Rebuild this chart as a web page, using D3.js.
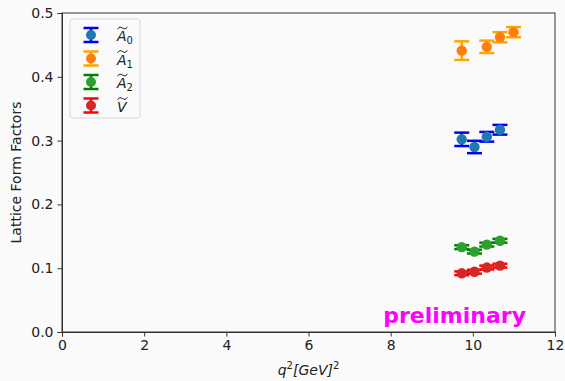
<!DOCTYPE html>
<html>
<head>
<meta charset="utf-8">
<script src="https://cdn.jsdelivr.net/npm/d3@7"></script>
<style>
  body { margin: 0; background: #fafafa; }
  text { font-family: "DejaVu Sans", sans-serif; }
</style>
</head>
<body>
<svg id="chart" width="565" height="381"></svg>
<script>
// q^2 values and form factors
const q2A0 = [9.73, 10.04, 10.34, 10.66];
const A0 = [0.302, 0.290, 0.306, 0.317];
const A0err = [0.0105, 0.0097, 0.0076, 0.0076];

const q2A1 = [9.73, 10.34, 10.66, 10.99];
const A1 = [0.441, 0.447, 0.462, 0.470];
const A1err = [0.0146, 0.0097, 0.008, 0.008];

const q2A2 = [9.73, 10.04, 10.34, 10.66];
const A2 = [0.133, 0.126, 0.137, 0.143];
const A2err = [0.003, 0.003, 0.003, 0.003];

const q2V = [9.73, 10.04, 10.34, 10.66];
const V = [0.092, 0.0945, 0.101, 0.104];
const Verr = [0.003, 0.003, 0.003, 0.003];

const xTicks = [0, 2, 4, 6, 8, 10, 12];
const yTicks = [0.0, 0.1, 0.2, 0.3, 0.4, 0.5];

const series = [
  { name: 'A', sub: '0', x: q2A0, y: A0, e: A0err, bar: '#0000ff', dot: '#1f77b4' },
  { name: 'A', sub: '1', x: q2A1, y: A1, e: A1err, bar: '#ffa500', dot: '#ff7f0e' },
  { name: 'A', sub: '2', x: q2A2, y: A2, e: A2err, bar: '#008000', dot: '#2ca02c' },
  { name: 'V', sub: '', x: q2V, y: V, e: Verr, bar: '#ff0000', dot: '#d62728' }
];

const svg = d3.select('#chart');
const margin = { top: 13, right: 10, bottom: 49, left: 62 };
const width = +svg.attr('width');
const height = +svg.attr('height');

svg.append('rect').attr('width', width).attr('height', height).attr('fill', '#fafafa');

const x = d3.scaleLinear().domain([0, 12]).range([margin.left, width - margin.right]);
const y = d3.scaleLinear().domain([0, 0.5]).range([height - margin.bottom, margin.top]);

// axes
const xAxis = svg.append('g')
    .attr('transform', `translate(0,${height - margin.bottom})`)
    .call(d3.axisBottom(x).tickValues(xTicks).tickFormat(d3.format('d')).tickSizeOuter(0).tickSize(4.5).tickPadding(4));
const yAxis = svg.append('g')
    .attr('transform', `translate(${margin.left},0)`)
    .call(d3.axisLeft(y).tickValues(yTicks).tickFormat(d3.format('.1f')).tickSizeOuter(0).tickSize(4.5).tickPadding(4));
[xAxis, yAxis].forEach(g => {
  g.selectAll('text').attr('font-size', 14).attr('fill', '#222').attr('font-family', 'DejaVu Sans');
  g.selectAll('line').attr('stroke', '#333');
  g.select('.domain').attr('stroke', '#333');
});

// frame
svg.append('rect')
    .attr('x', x(0)).attr('y', y(0.5))
    .attr('width', x(12) - x(0)).attr('height', y(0) - y(0.5))
    .attr('fill', 'none').attr('stroke', '#333').attr('stroke-width', 1);

// axis labels
svg.append('text')
    .attr('transform', `translate(21,${(y(0) + y(0.5)) / 2}) rotate(-90)`)
    .attr('text-anchor', 'middle').attr('font-size', 14).attr('fill', '#222')
    .text('Lattice Form Factors');

const xl = svg.append('text')
    .attr('x', (x(0) + x(12)) / 2).attr('y', 375)
    .attr('text-anchor', 'middle').attr('font-size', 14).attr('fill', '#222')
    .attr('font-style', 'italic');
xl.append('tspan').text('q');
xl.append('tspan').attr('font-size', 10).attr('dy', -6).attr('font-style', 'normal').text('2');
xl.append('tspan').attr('dy', 6).text('[GeV]');
xl.append('tspan').attr('font-size', 10).attr('dy', -6).attr('font-style', 'normal').text('2');

// error bars and points
const cap = 7.5;
series.forEach(s => {
  const g = svg.append('g');
  const pts = s.x.map((q, i) => ({ q, v: s.y[i], e: s.e[i] }));
  g.selectAll('line.v').data(pts).enter().append('line')
      .attr('x1', d => x(d.q)).attr('x2', d => x(d.q))
      .attr('y1', d => y(d.v - d.e)).attr('y2', d => y(d.v + d.e))
      .attr('stroke', s.bar).attr('stroke-width', 2.5);
  [-1, 1].forEach(sign => {
    g.selectAll(null).data(pts).enter().append('line')
        .attr('x1', d => x(d.q) - cap).attr('x2', d => x(d.q) + cap)
        .attr('y1', d => y(d.v + sign * d.e)).attr('y2', d => y(d.v + sign * d.e))
        .attr('stroke', s.bar).attr('stroke-width', 2.5);
  });
  g.selectAll('circle').data(pts).enter().append('circle')
      .attr('cx', d => x(d.q)).attr('cy', d => y(d.v)).attr('r', 5.2)
      .attr('fill', s.dot);
});

// preliminary tag
svg.append('text')
    .attr('x', x(7.82)).attr('y', y(0.014))
    .attr('font-size', 22).attr('font-weight', 'bold').attr('fill', '#ff00ff')
    .text('preliminary');

// legend
const lg = svg.append('g').attr('transform', 'translate(70,19)');
lg.append('rect').attr('width', 70).attr('height', 99).attr('rx', 3)
    .attr('fill', '#fafafa').attr('stroke', '#d8d8d8').attr('stroke-width', 1);
series.forEach((s, i) => {
  const cy = 16 + i * 23.5;
  const cx = 21;
  lg.append('line').attr('x1', cx).attr('x2', cx).attr('y1', cy - 7).attr('y2', cy + 7)
      .attr('stroke', s.bar).attr('stroke-width', 2.5);
  [-7, 7].forEach(o => lg.append('line').attr('x1', cx - 7.5).attr('x2', cx + 7.5)
      .attr('y1', cy + o).attr('y2', cy + o).attr('stroke', s.bar).attr('stroke-width', 2.5));
  lg.append('circle').attr('cx', cx).attr('cy', cy).attr('r', 5).attr('fill', s.dot);
  const t = lg.append('text').attr('x', 47).attr('y', cy + 6).attr('font-size', 14).attr('fill', '#222');
  t.append('tspan').attr('font-style', 'italic').text(s.name);
  if (s.sub) t.append('tspan').attr('font-size', 10).attr('dy', 3).text(s.sub);
  // wide tilde over the letter
  lg.append('path')
      .attr('d', `M${47.5},${cy - 6} q2.5,-3.5 5,-1 t5,-1`)
      .attr('fill', 'none').attr('stroke', '#222').attr('stroke-width', 1);
});
</script>
</body>
</html>
